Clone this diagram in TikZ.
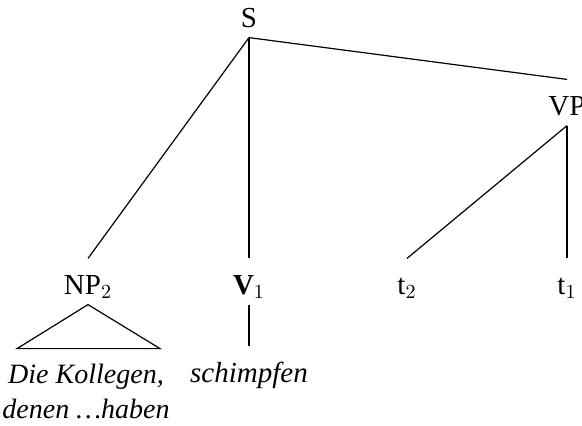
\documentclass[tikz,border=0pt]{standalone}
\usepackage{fontspec}
\setmainfont{Liberation Serif}
\usepackage{tikz}

\begin{document}
\begin{tikzpicture}[x=0.5pt,y=-0.5pt,line width=0.6pt,
  every node/.style={font=\fontsize{14.5}{17.5}\selectfont},
  cat/.style={inner sep=0pt,text height=17.5pt,text depth=5pt,anchor=base}]
\useasboundingbox (0,0) rectangle (582,425);
\node[cat] (s) at (249,27) {S};
\node[cat] (vp) at (567,115) {VP};
\node[cat] (np) at (88,294) {NP$_2$};
\node[cat] (v1) at (249,294) {\textbf{V}$_1$};
\node[cat] (t2) at (407,294) {t$_2$};
\node[cat] (t1) at (567,294) {t$_1$};
\node[cat] (schimpfen) at (249,382) {\itshape schimpfen};
\node[inner sep=0pt,anchor=north,align=center,font=\fontsize{14}{17.5}\selectfont\itshape] (kollegen) at (86,363) {Die Kollegen,\\denen …haben};
\draw (s.south) -- (np.north);
\draw (s.south) -- (v1.north);
\draw (s.south) -- (vp.north);
\draw (vp.south) -- (t2.north);
\draw (vp.south) -- (t1.north);
\draw (v1.south) -- (schimpfen.north);
\draw (np.south) -- ++(-71,44) -- ++(143,0) -- cycle;
\end{tikzpicture}
\end{document}
